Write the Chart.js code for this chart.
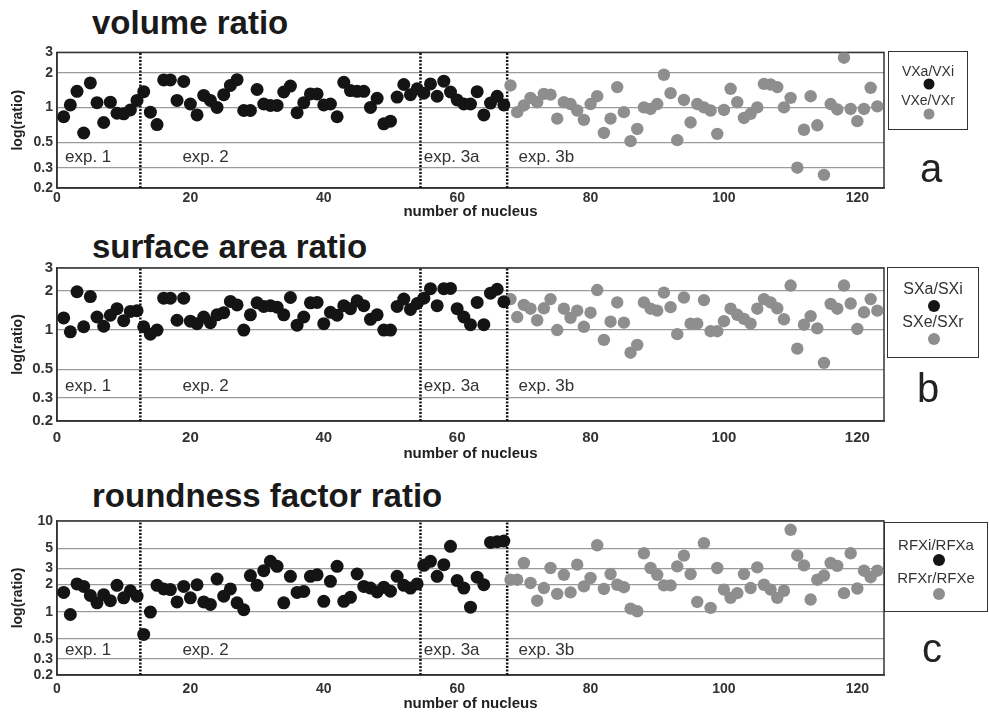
<!DOCTYPE html>
<html>
<head>
<meta charset="utf-8">
<script src="https://cdn.jsdelivr.net/npm/chart.js@4.4.0/dist/chart.umd.min.js"></script>
<style>
  body { margin: 0; background: #fff; font-family: "Liberation Sans", Arial, sans-serif; }
  #page { position: relative; width: 989px; height: 717px; overflow: hidden; }
  canvas { position: absolute; left: 0; }
  .title { position: absolute; left: 92px; font-weight: bold; font-size: 33px; line-height: 33px; color: #1a1a1a; white-space: nowrap; }
  .legend { position: absolute; border: 1.5px solid #333; box-sizing: border-box; }
  .legend span { position: absolute; left: 0; right: 0; text-align: center; color: #333; line-height: 1; transform: translateY(-50%); }
  .legend i { position: absolute; border-radius: 50%; transform: translate(-50%, -50%); }
  .letter { position: absolute; font-size: 40px; line-height: 1; color: #222; transform: translate(-50%, -50%); }
</style>
</head>
<body>
<div id="page">
  <div class="title" style="top:6px">volume ratio</div>
  <div class="title" style="top:230px">surface area ratio</div>
  <div class="title" style="top:479px">roundness factor ratio</div>
  <canvas id="chartA" width="989" height="185" style="top:40px"></canvas>
  <canvas id="chartB" width="989" height="212" style="top:255px"></canvas>
  <canvas id="chartC" width="989" height="212" style="top:505px"></canvas>
</div>
<script>
// x axis and y axis ticks
const xTicks = [0, 20, 40, 60, 80, 100, 120];
const ratioTicks = [0.2, 0.3, 0.5, 1, 2, 3];
const roundTicks = [0.2, 0.3, 0.5, 1, 2, 3, 5, 10];

// experiment boundaries (between nuclei) and labels
const splits = [12.5, 54.5, 67.5];
const expLabels = ['exp. 1', 'exp. 2', 'exp. 3a', 'exp. 3b'];
const expLabelX = [1.2, 18.8, 55, 69.2];
const expLabelY = 0.37;

// nuclei 1..67 are black (exp 1, 2, 3a), 68..123 grey (exp 3b)
const firstGrey = 68;

const vxaVxi = [0.83, 1.05, 1.38, 0.60, 1.63, 1.10, 0.74, 1.11, 0.89, 0.88, 0.95, 1.15,
  1.37, 0.91, 0.71, 1.73, 1.73, 1.15, 1.68, 1.07, 0.86, 1.27, 1.15, 1.0, 1.29, 1.55, 1.74, 0.94, 0.94, 1.43,
  1.07, 1.04, 1.04, 1.36, 1.53, 0.9, 1.1, 1.31, 1.31, 1.05, 1.07, 0.83, 1.65, 1.4, 1.38, 1.38, 1.0, 1.2,
  0.72, 0.76, 1.23, 1.58, 1.29, 1.45,
  1.33, 1.6, 1.25, 1.69, 1.36, 1.16, 1.07, 1.07, 1.37, 0.86, 1.09, 1.25, 1.05];
const vxeVxr = [1.55, 0.91, 1.04, 1.21, 1.11, 1.31, 1.29, 0.8, 1.11, 1.07, 0.94, 0.78,
  1.07, 1.25, 0.6, 0.8, 1.5, 0.91, 0.51, 0.65, 1.0, 0.97, 1.07, 1.92,
  1.33, 0.52, 1.16, 0.74, 1.07, 1.0, 0.94, 0.59, 0.95, 1.45, 1.11, 0.81,
  0.88, 1.0, 1.6, 1.58, 1.5, 1.0, 1.21, 0.30, 0.64, 1.25, 0.7, 0.26,
  1.07, 0.96, 2.7, 0.97, 0.76, 0.97, 1.48, 1.02];

const sxaSxi = [1.24, 0.97, 1.97, 1.06, 1.81, 1.26, 1.07, 1.30, 1.46, 1.18, 1.39, 1.41,
  1.06, 0.93, 1.0, 1.76, 1.76, 1.19, 1.76, 1.17, 1.12, 1.26, 1.14, 1.31, 1.36, 1.66, 1.56, 1.0, 1.31, 1.62,
  1.52, 1.54, 1.5, 1.31, 1.78, 1.09, 1.26, 1.62, 1.63, 1.12, 1.37, 1.3, 1.54, 1.46, 1.68, 1.54, 1.21, 1.31,
  1.0, 1.0, 1.52, 1.73, 1.44, 1.6,
  1.76, 2.08, 1.54, 2.08, 2.09, 1.46, 1.26, 1.1, 1.63, 1.1, 1.92, 2.06, 1.65];
const sxeSxr = [1.73, 1.26, 1.56, 1.46, 1.19, 1.47, 1.73, 1.0, 1.46, 1.24, 1.41, 1.06,
  1.36, 2.03, 0.84, 1.16, 1.63, 1.14, 0.67, 0.77, 1.63, 1.46, 1.41, 1.94,
  1.5, 0.93, 1.78, 1.12, 1.12, 1.7, 0.98, 0.98, 1.17, 1.46, 1.31, 1.22,
  1.12, 1.46, 1.73, 1.63, 1.47, 1.21, 2.2, 0.72, 1.1, 1.28, 1.03, 0.56,
  1.59, 1.46, 2.2, 1.6, 1.02, 1.37, 1.73, 1.41];

const rfxiRfxa = [1.63, 0.93, 2.02, 1.9, 1.51, 1.25, 1.54, 1.32, 1.95, 1.42, 1.7, 1.48,
  0.56, 0.99, 1.95, 1.78, 1.75, 1.28, 1.9, 1.42, 1.98, 1.28, 1.2, 2.29, 1.48, 1.78, 1.25, 1.05, 2.5, 1.95,
  2.83, 3.59, 3.16, 1.25, 2.45, 1.63, 1.67, 2.45, 2.55, 1.3, 2.16, 3.16, 1.3, 1.44, 2.6, 1.9, 1.82, 1.65,
  1.86, 1.68, 2.45, 1.95, 1.82, 2.02,
  3.24, 3.59, 2.45, 3.3, 5.25, 2.2, 1.82, 1.12, 2.4, 1.98, 5.8, 5.9, 6.0];
const rfxrRfxe = [2.25, 2.25, 3.44, 2.07, 1.32, 1.82, 3.03, 1.57, 2.55, 1.63, 3.3, 1.9,
  2.35, 5.4, 1.78, 2.6, 1.98, 1.86, 1.08, 1.01, 4.4, 3.03, 2.55, 1.95,
  1.95, 3.16, 4.15, 2.6, 1.28, 5.7, 1.1, 3.03, 1.75, 1.42, 1.6, 2.6,
  1.82, 3.08, 1.98, 1.75, 1.42, 1.7, 8.0, 4.17, 3.24, 1.36, 2.25, 2.5,
  3.44, 3.2, 1.6, 4.4, 1.8, 2.83, 2.4, 2.83];

const FONT = '"Liberation Sans", Arial, sans-serif';
const BLACK = '#141414';
const GREY = '#8e8e8e';

const framePlugin = {
  id: 'frame',
  beforeDatasetsDraw(chart) {
    const { ctx, chartArea: a } = chart;
    ctx.save();
    ctx.strokeStyle = '#333';
    ctx.lineWidth = 1.5;
    ctx.strokeRect(a.left, a.top, a.right - a.left, a.bottom - a.top);
    ctx.restore();
  }
};

const expPlugin = {
  id: 'expLabels',
  beforeDatasetsDraw(chart) {
    const { ctx, scales: { x, y } } = chart;
    ctx.save();
    ctx.font = '17px ' + FONT;
    ctx.fillStyle = '#333';
    ctx.textBaseline = 'middle';
    expLabels.forEach((t, i) => {
      ctx.fillText(t, x.getPixelForValue(expLabelX[i]), y.getPixelForValue(expLabelY));
    });
    ctx.restore();
  }
};

function points(vals, start) {
  return vals.map((v, i) => ({ x: start + i, y: v }));
}

function makeChart(id, black, grey, yTicks, L) {
  const yMin = yTicks[0], yMax = yTicks[yTicks.length - 1];
  const datasets = [
    { data: points(black, 1), backgroundColor: BLACK, pointRadius: 6.5, pointBorderWidth: 0 },
    { data: points(grey, firstGrey), backgroundColor: GREY, pointRadius: 6.2, pointBorderWidth: 0 }
  ];
  splits.forEach(s => {
    datasets.push({
      data: [{ x: s, y: yMin }, { x: s, y: yMax }],
      showLine: true, borderColor: '#111', borderWidth: 2.5, borderDash: [2, 1.5], pointRadius: 0
    });
  });

  return new Chart(document.getElementById(id), {
    type: 'scatter',
    data: { datasets },
    plugins: [framePlugin, expPlugin],
    options: {
      responsive: false,
      animation: false,
      events: [],
      layout: { padding: { top: L.padTop, right: 105, bottom: 0, left: 0 } },
      plugins: { legend: { display: false }, tooltip: { enabled: false } },
      scales: {
        x: {
          type: 'linear', min: 0, max: 124,
          afterBuildTicks: s => { s.ticks = xTicks.map(v => ({ value: v })); },
          afterFit: s => { s.height = L.xh; },
          grid: { display: false, drawTicks: false },
          border: { color: '#333', width: 1.5 },
          ticks: { color: '#333', padding: L.tickPad, maxRotation: 0, font: { family: FONT, size: L.tick, weight: 'bold' } },
          title: { display: true, text: 'number of nucleus', color: '#222', padding: { top: 0, bottom: 4 },
                   font: { family: FONT, size: 15, weight: 'bold' } }
        },
        y: {
          type: 'logarithmic', min: yMin, max: yMax,
          afterBuildTicks: s => { s.ticks = yTicks.map(v => ({ value: v })); },
          afterFit: s => { s.width = 57; },
          grid: { color: '#9a9a9a', lineWidth: 1.2, drawTicks: false },
          border: { color: '#333', width: 1.5 },
          ticks: { color: '#333', padding: 4, autoSkip: false, callback: v => String(v),
                   font: { family: FONT, size: L.tick, weight: 'bold' } },
          title: { display: true, text: 'log(ratio)', color: '#222', padding: { top: 10, bottom: 0 },
                   font: { family: FONT, size: 14, weight: 'bold' } }
        }
      }
    }
  });
}

makeChart('chartA', vxaVxi, vxeVxr, ratioTicks, { padTop: 12, xh: 37, tickPad: 2, tick: 14 });
makeChart('chartB', sxaSxi, sxeSxr, ratioTicks, { padTop: 12, xh: 46, tickPad: 8, tick: 15 });
makeChart('chartC', rfxiRfxa, rfxrRfxe, roundTicks, { padTop: 16, xh: 42, tickPad: 6, tick: 14 });

// legend boxes and panel letters
const legends = [
  { names: ['VXa/VXi', 'VXe/VXr'], box: [888, 51, 80, 79], cx: 40, ys: [19, 32, 48, 62], font: 14, dot: 11 },
  { names: ['SXa/SXi', 'SXe/SXr'], box: [887, 267, 92, 91], cx: 46, ys: [21, 38, 54, 71], font: 16, dot: 12 },
  { names: ['RFXi/RFXa', 'RFXr/RFXe'], box: [884, 522, 104, 90], cx: 54, ys: [21, 37, 54, 71], font: 15, dot: 12 }
];
const letters = [['a', 931, 168], ['b', 928, 388], ['c', 932, 648]];

const page = document.getElementById('page');
legends.forEach(lg => {
  const d = document.createElement('div');
  d.className = 'legend';
  d.style.cssText = `left:${lg.box[0]}px;top:${lg.box[1]}px;width:${lg.box[2]}px;height:${lg.box[3]}px`;
  [BLACK, GREY].forEach((c, i) => {
    const s = document.createElement('span');
    s.textContent = lg.names[i];
    s.style.cssText = `top:${lg.ys[i * 2]}px;font-size:${lg.font}px`;
    d.appendChild(s);
    const dot = document.createElement('i');
    dot.style.cssText = `left:${lg.cx}px;top:${lg.ys[i * 2 + 1]}px;width:${lg.dot}px;height:${lg.dot}px;background:${c}`;
    d.appendChild(dot);
  });
  page.appendChild(d);
});
letters.forEach(([t, x, y]) => {
  const d = document.createElement('div');
  d.className = 'letter';
  d.textContent = t;
  d.style.left = x + 'px';
  d.style.top = y + 'px';
  page.appendChild(d);
});
</script>
</body>
</html>
